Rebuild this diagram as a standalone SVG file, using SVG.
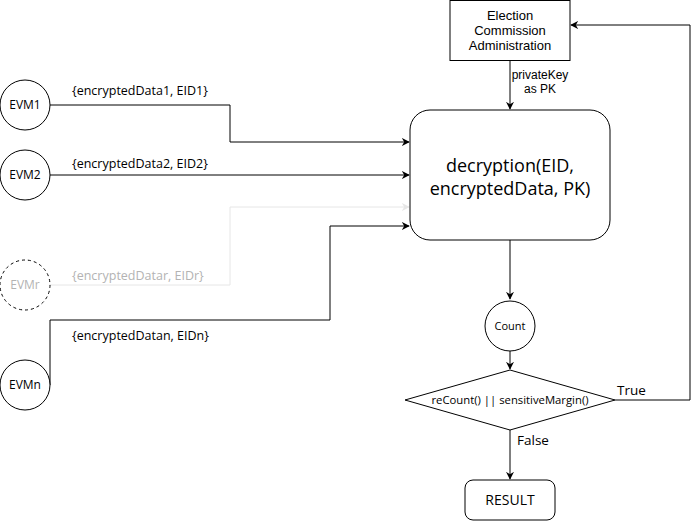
<svg xmlns="http://www.w3.org/2000/svg" width="699" height="522" viewBox="0 0 699 522">
<style>
.n{fill:#fff;stroke:#000;stroke-width:1}
.t{font-family:"Open Sans","Noto Sans",sans-serif;font-size:12px;fill:#000}
.m{font-family:"Liberation Sans",Arial,sans-serif}
.l{font-size:12.5px}
.c{text-anchor:middle}
.e{fill:none;stroke:#000;stroke-width:1}
.g{fill:none;stroke:#e6e6e6;stroke-width:1}
</style>
<defs>
<marker id="a" viewBox="0 0 10 10" refX="9" refY="5" markerWidth="8" markerHeight="8" markerUnits="userSpaceOnUse" orient="auto"><path d="M0,0 L10,5 L0,10 L3,5 Z" fill="#000"/></marker>
<marker id="ag" viewBox="0 0 10 10" refX="9" refY="5" markerWidth="8" markerHeight="8" markerUnits="userSpaceOnUse" orient="auto"><path d="M0,0 L10,5 L0,10 L3,5 Z" fill="#e6e6e6"/></marker>
</defs>
<rect width="699" height="522" fill="#fff"/>
<g id="connectors">
<path class="e" d="M50,105 H230 V142 H409" marker-end="url(#a)"/>
<path class="e" d="M50,175 H409" marker-end="url(#a)"/>
<path class="g" d="M50,285 H230 V207 H409" marker-end="url(#ag)"/>
<path class="e" d="M50,385 V320 H330 V226 H409" marker-end="url(#a)"/>
<path class="e" d="M510,60 V109" marker-end="url(#a)"/>
<path class="e" d="M510,240 V299" marker-end="url(#a)"/>
<path class="e" d="M510,351 V369" marker-end="url(#a)"/>
<path class="e" d="M615,400 H690 V25 H571" marker-end="url(#a)"/>
<path class="e" d="M510,430 V479" marker-end="url(#a)"/>
<text class="t l" x="72" y="95">{encryptedData1, EID1}</text>
<text class="t l" x="72" y="168">{encryptedData2, EID2}</text>
<text class="t l" x="72" y="280" style="fill:#b3b3b3">{encryptedDatar, EIDr}</text>
<text class="t l" x="72" y="340">{encryptedDatan, EIDn}</text>
<text class="t m c" x="540" y="79">privateKey<tspan x="540" dy="14">as PK</tspan></text>
<text class="t" x="617" y="395" style="font-size:13.5px">True</text>
<text class="t" x="517" y="445" style="font-size:13.5px">False</text>
</g>
<g id="evm1"><circle class="n" cx="25" cy="105" r="25"/><text class="t c" x="25" y="109">EVM1</text></g>
<g id="evm2"><circle class="n" cx="25" cy="175" r="25"/><text class="t c" x="25" y="179">EVM2</text></g>
<g id="evmr"><circle class="n" cx="25" cy="285" r="25" stroke-dasharray="3,3"/><text class="t c" x="25" y="289" style="fill:#b3b3b3">EVMr</text></g>
<g id="evmn"><circle class="n" cx="25" cy="385" r="25"/><text class="t c" x="25" y="389">EVMn</text></g>
<g id="eca"><rect class="n" x="450" y="0.5" width="120" height="60"/><text class="t m c" x="510" y="20" style="font-size:13px">Election<tspan x="510" dy="15">Commission</tspan><tspan x="510" dy="15">Administration</tspan></text></g>
<g id="decryption"><rect class="n" x="410" y="110" width="200" height="130" rx="20" ry="20"/><text class="t c" x="510" y="172" style="font-size:18px">decryption(EID,<tspan x="510" dy="23">encryptedData, PK)</tspan></text></g>
<g id="count"><circle class="n" cx="510" cy="326" r="25"/><text class="t c" x="510" y="330" style="font-size:11px">Count</text></g>
<g id="decision"><path class="n" d="M510,370 L615,400 L510,430 L405,400 Z"/><text class="t c" x="510" y="404" style="font-size:11.3px">reCount() || sensitiveMargin()</text></g>
<g id="result"><rect class="n" x="465" y="480" width="90" height="40" rx="8" ry="8"/><text class="t c" x="510" y="505" style="font-size:14px">RESULT</text></g>
</svg>
